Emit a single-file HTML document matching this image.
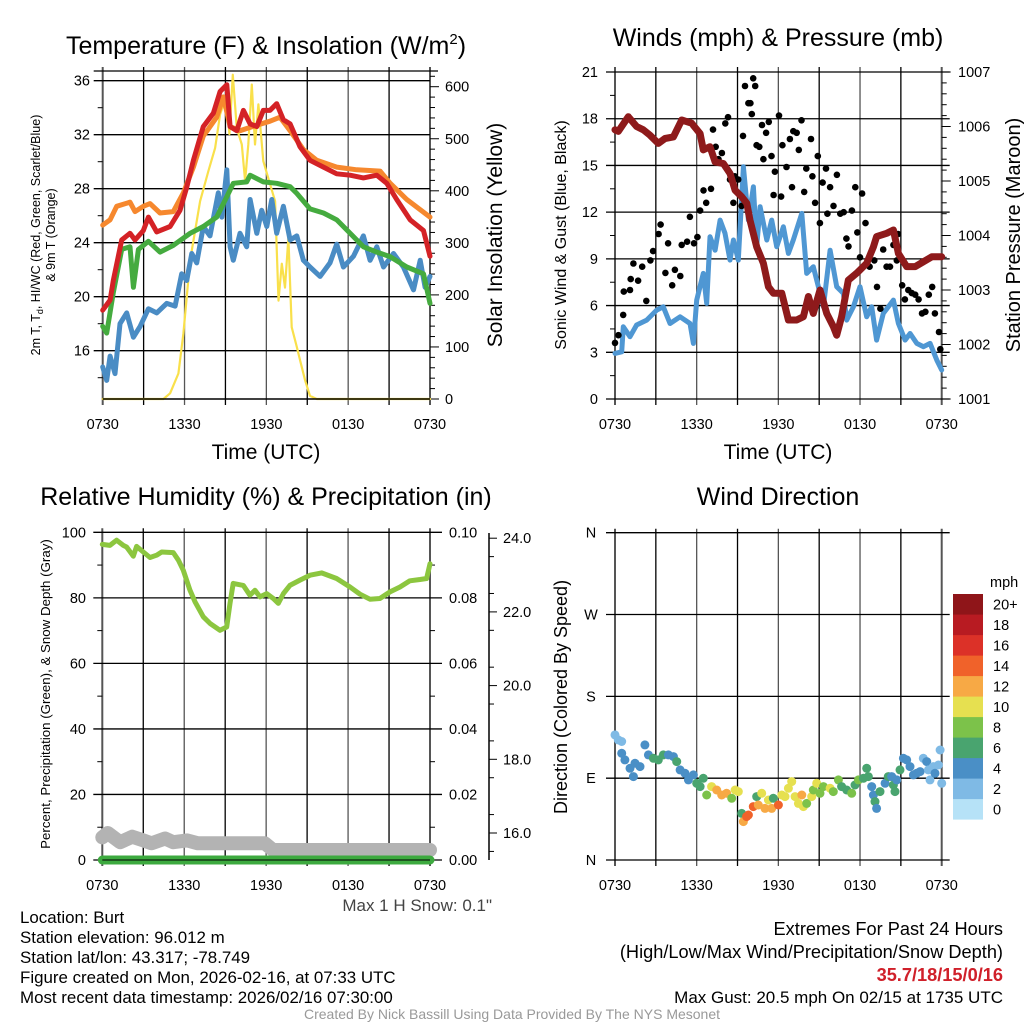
<!DOCTYPE html>
<html><head><meta charset="utf-8">
<style>
html,body{margin:0;padding:0;background:#fff;}
svg{display:block;font-family:"Liberation Sans",Arial,sans-serif;}
</style></head>
<body>
<svg id="fig" width="1024" height="1024" viewBox="0 0 1024 1024" xmlns="http://www.w3.org/2000/svg">
<rect x="0" y="0" width="1024" height="1024" fill="#fff"/>
<!-- titles -->
<text x="266" y="54" font-size="25" text-anchor="middle">Temperature (F) &amp; Insolation (W/m<tspan font-size="15" dy="-10">2</tspan><tspan dy="10">)</tspan></text>
<text x="778" y="46" font-size="25" text-anchor="middle">Winds (mph) &amp; Pressure (mb)</text>
<text x="266" y="505" font-size="25" text-anchor="middle">Relative Humidity (%) &amp; Precipitation (in)</text>
<text x="778" y="505" font-size="25" text-anchor="middle">Wind Direction</text>
<!-- axis titles -->
<text transform="translate(40,235) rotate(-90)" font-size="12.5" text-anchor="middle">2m T, T<tspan font-size="9" dy="3">d</tspan><tspan dy="-3">, HI/WC (Red, Green, Scarlet/Blue)</tspan></text>
<text transform="translate(55,235) rotate(-90)" font-size="12.5" text-anchor="middle">&amp; 9m T (Orange)</text>
<text transform="translate(502,235) rotate(-90)" font-size="21" text-anchor="middle">Solar Insolation (Yellow)</text>
<text transform="translate(566,235) rotate(-90)" font-size="16" text-anchor="middle">Sonic Wind &amp; Gust (Blue, Black)</text>
<text transform="translate(1020,235) rotate(-90)" font-size="20" text-anchor="middle">Station Pressure (Maroon)</text>
<text transform="translate(50,694) rotate(-90)" font-size="13.3" text-anchor="middle">Percent, Precipitation (Green), &amp; Snow Depth (Gray)</text>
<text transform="translate(567,697) rotate(-90)" font-size="18" text-anchor="middle">Direction (Colored By Speed)</text>
<text x="266" y="459" font-size="21" text-anchor="middle">Time (UTC)</text>
<text x="778" y="459" font-size="21" text-anchor="middle">Time (UTC)</text>
<!-- footer text -->
<text x="492" y="911" font-size="17" text-anchor="end" fill="#444">Max 1 H Snow: 0.1"</text>
<g font-size="16.9" fill="#000">
<text x="20" y="923">Location: Burt</text>
<text x="20" y="943">Station elevation: 96.012 m</text>
<text x="20" y="963">Station lat/lon: 43.317; -78.749</text>
<text x="20" y="983">Figure created on Mon, 2026-02-16, at 07:33 UTC</text>
<text x="20" y="1003">Most recent data timestamp: 2026/02/16 07:30:00</text>
</g>
<g font-size="18.2" text-anchor="end">
<text x="1003" y="935">Extremes For Past 24 Hours</text>
<text x="1003" y="958">(High/Low/Max Wind/Precipitation/Snow Depth)</text>
<text x="1003" y="981" fill="#d0202a" font-weight="bold">35.7/18/15/0/16</text>
<text x="1003" y="1003" font-size="17">Max Gust: 20.5 mph On 02/15 at 1735 UTC</text>
</g>
<text x="512" y="1019" font-size="14" text-anchor="middle" fill="#999">Created By Nick Bassill Using Data Provided By The NYS Mesonet</text>
</svg>
<script>
// ---------- DATA ----------
const timeTickLabels = ["0730","1330","1930","0130","0730"];
// Panel 1
const tempTickLabels = [16,20,24,28,32,36];
const solarTickLabels = [0,100,200,300,400,500,600];
const redHours = [0,.54,.78,1.39,2.0,2.37,2.98,3.35,3.96,4.94,5.67,6.16,6.65,7.38,8.12,8.61,9.1,9.34,9.83,10.32,10.81,11.3,11.78,12.27,12.76,13.25,13.74,14.47,15.2,16.19,17.16,18.14,19.12,20.1,20.83,21.56,22.54,23.52,24];
const redTemp = [19.0,19.75,21.2,24.2,24.7,24.2,24.9,25.9,24.8,25.2,26.4,28.1,30.1,32.6,33.6,35.2,35.7,32.6,32.3,33.8,32.8,32.6,33.8,33.8,34.3,33.1,32.8,31.1,30.1,29.6,29.1,29.0,28.8,29.0,28.4,27.2,25.7,24.9,23.0];
const orangeHours = [0,.54,1.03,2.0,2.37,2.98,3.47,4.2,5.18,5.92,6.65,7.38,8.36,8.85,9.34,10.07,11.3,12.27,13.0,13.74,14.72,15.7,17.16,18.63,20.34,21.08,22.3,24];
const orangeTemp = [25.3,25.7,26.7,27.0,26.3,26.7,26.9,26.2,26.3,27.7,29.6,31.9,33.3,34.8,32.6,32.3,32.7,33.0,33.3,32.3,30.9,30.1,29.6,29.4,29.3,28.4,27.2,25.9];
const greenHours = [0,.29,.78,1.39,2.0,2.25,2.62,3.35,4.2,5.18,6.41,7.38,8.36,9.1,9.58,10.56,10.81,11.78,12.76,13.74,14.23,15.2,16.19,17.16,18.14,19.12,20.1,21.08,22.3,23.52,24];
const greenTemp = [17.8,17.3,20.3,23.5,23.7,20.7,23.5,24.1,23.3,23.8,24.7,25.2,25.9,27.4,28.4,28.5,29.0,28.5,28.4,28.15,27.65,26.5,26.2,25.7,24.7,23.7,23.3,22.96,22.2,21.7,19.5];
const blueHours = [0,.29,.54,.9,1.27,1.76,2.25,2.74,3.35,3.96,4.69,5.31,5.79,6.16,6.53,6.89,7.38,7.87,8.48,8.73,9.1,9.34,9.58,10.07,10.56,10.81,11.3,11.66,12.03,12.4,12.76,13.25,13.74,14.23,14.72,15.2,15.94,16.67,17.16,17.65,18.39,19.12,19.61,20.1,20.59,21.32,22.05,22.79,23.28,23.64,24];
const blueTemp = [14.8,13.8,15.6,14.3,18.0,18.8,17.0,17.8,19.1,18.8,19.5,19.3,21.7,21.2,23.2,22.5,25.2,24.5,27.7,25.9,29.4,23.7,22.7,24.7,23.7,27.2,24.7,26.4,25.2,27.2,24.7,26.7,24.2,24.5,22.7,22.2,21.5,22.5,23.9,22.2,23.0,24.5,22.7,23.7,22.2,23.2,22.2,20.5,22.7,20.7,21.5];
const solarHours = [0,4.45,4.94,5.55,5.92,6.41,7.14,7.75,8.24,8.61,9.1,9.29,9.54,9.83,10.2,10.44,10.68,10.93,11.17,11.42,11.78,12.27,12.64,12.89,13.13,13.37,13.62,13.86,14.23,14.47,14.84,15.2,15.7,24];
const solarVals = [0,0,11,49,126,266,380,438,482,547,585,509,623,520,489,419,489,604,489,566,457,413,380,189,260,214,310,138,100,75,36,6,0,0];
// Panel 2
const windTickLabels = [0,3,6,9,12,15,18,21];
const presTickLabels = [1001,1002,1003,1004,1005,1006,1007];
const presHours = [0,.24,.98,1.59,2.08,2.57,3.18,3.67,4.29,4.9,5.63,6.25,6.49,6.98,7.35,7.96,8.45,8.82,9.31,9.68,9.92,10.41,10.9,11.27,11.64,12.25,12.74,13.35,13.84,14.21,14.57,15.06,15.55,16.04,16.29,16.65,17.14,17.76,18.49,18.98,19.22,19.96,20.45,20.82,21.43,22.05,22.66,23.27,24];
const presVals = [1005.94,1005.91,1006.18,1006.0,1005.94,1005.84,1005.69,1005.78,1005.81,1006.12,1006.06,1005.87,1005.57,1005.63,1005.35,1005.32,1005.14,1004.83,1004.71,1004.59,1004.28,1003.79,1003.49,1003.06,1002.94,1002.94,1002.45,1002.45,1002.51,1002.88,1002.57,1003.0,1002.57,1002.33,1002.17,1002.51,1003.18,1003.31,1003.49,1003.79,1003.98,1004.04,1004.1,1003.67,1003.43,1003.43,1003.52,1003.61,1003.61];
const windHours = [0,.49,.61,1.1,1.59,2.33,3.06,3.55,4.04,4.78,5.51,5.76,6.0,6.49,6.74,6.98,7.35,7.72,8.08,8.45,8.7,9.06,9.43,9.8,10.17,10.41,10.66,11.15,11.51,11.88,12.37,12.74,13.1,13.72,14.08,14.57,14.94,15.31,15.8,16.29,16.78,17.02,17.51,18.0,18.49,18.86,19.22,19.71,20.45,20.82,21.31,21.68,22.17,22.66,23.15,23.64,24];
const windVals = [2.93,3.03,4.64,4.0,4.75,5.07,5.71,5.92,4.85,5.28,4.85,3.57,6.35,8.07,6.14,10.42,9.56,11.49,10.64,8.92,10.21,8.92,14.92,11.49,13.63,9.78,12.35,10.21,11.49,9.78,11.06,9.35,10.21,11.92,8.07,8.5,7.21,5.92,9.56,7.21,6.78,5.07,5.92,7.21,5.28,5.92,3.78,5.5,6.35,4.85,3.78,4.21,3.57,3.36,3.57,2.5,1.86];
const gustHours = [0,.25,.6,.65,1.1,1.15,1.35,1.7,2.0,2.3,2.6,2.8,3.2,3.35,3.7,3.9,4.2,4.4,4.8,4.9,5.3,5.5,5.8,6.05,6.25,6.5,6.7,7.05,7.2,7.4,7.6,7.85,8.1,8.3,8.45,8.7,8.8,9.05,9.3,9.4,9.55,9.8,9.95,10.05,10.15,10.3,10.4,10.6,10.8,10.9,11.1,11.3,11.5,11.65,11.75,12.05,12.2,12.3,12.6,12.85,13.0,13.1,13.35,13.5,13.7,13.9,14.05,14.4,14.5,14.7,14.9,15.05,15.25,15.5,15.6,15.8,16.05,16.3,16.55,16.8,17.0,17.15,17.4,17.65,17.8,18.0,18.15,18.4,18.7,19.05,19.25,19.5,19.7,19.95,20.2,20.45,20.7,20.8,21.1,21.3,21.55,21.8,22.05,22.3,22.55,22.8,23.05,23.3,23.5,23.8,23.9];
const gustVals = [3.6,4.1,5.4,6.9,7.0,7.7,8.7,7.6,8.5,6.3,8.9,9.5,10.6,11.2,8.1,10.0,7.3,8.3,7.9,9.9,10.1,11.7,10.0,10.4,12.1,13.4,12.6,13.5,17.3,16.2,15.4,15.8,17.7,18.1,14.1,12.6,14.3,14.1,12.4,16.9,20.1,19.0,19.0,18.3,20.6,20.1,16.3,16.2,17.6,15.4,17.1,17.8,15.6,13.1,14.6,18.2,13.0,16.3,14.9,16.7,13.6,17.2,17.1,16.0,17.9,13.3,14.8,16.7,14.3,12.6,15.6,11.3,13.9,14.8,11.9,13.6,12.4,14.4,11.9,12.0,10.3,9.8,12.1,13.6,10.7,9.1,13.2,11.3,8.5,8.9,7.2,5.8,9.6,8.5,8.5,9.9,8.9,10.6,7.3,6.4,7.0,6.8,6.7,6.4,5.5,5.6,6.7,7.2,5.5,4.3,3.2];
// Panel 3
const rhTickLabels = [0,20,40,60,80,100];
const precipTickLabels = ["0.00","0.02","0.04","0.06","0.08","0.10"];
const snowTickLabels = ["16.0","18.0","20.0","22.0","24.0"];
const rhHours = [0,.56,1.05,1.54,1.78,2.27,2.51,3.0,3.49,3.98,4.35,5.2,5.57,5.93,6.42,6.79,7.4,7.89,8.62,9.11,9.35,9.59,10.33,10.81,11.18,11.55,12.04,12.52,12.89,13.26,13.74,14.48,15.21,16.06,17.16,18.14,18.87,19.6,20.33,21.07,21.8,22.53,23.27,23.75,24];
const rhVals = [96.3,96.0,97.6,96.0,95.5,92.7,95.7,94.0,92.3,93.0,94.0,93.8,91.5,88.4,82.3,78.8,74.2,72.2,70.1,71.1,78.3,84.4,83.8,80.8,82.3,80.3,81.3,79.8,78.3,81.3,83.8,85.4,86.9,87.6,85.9,83.3,81.1,79.6,79.8,81.8,83.3,85.2,85.6,85.9,90.4];
const snowHours = [0,.4,1.3,2.2,3,3.6,4.6,5.2,6.2,7,11.9,12.5,24];
const snowVals = [15.88,16.0,15.75,15.9,15.8,15.72,15.85,15.75,15.8,15.72,15.72,15.54,15.54];
const precipHours = [0,24];
const precipVals = [0,0];
// Panel 4
const dirTickLabels = ["N","E","S","W","N"];
const speedBinLabels = ["0","2","4","6","8","10","12","14","16","18","20+"];
const speedBinColors = ["#b6e2f7","#7fbae5","#4a8fc6","#49a46f","#7cc24a","#e6e050","#f7a945","#f0622a","#dc3128","#b81b22","#8f1519"];
const dirHours = [0,.24,.49,.49,.73,1.1,1.35,1.47,1.84,2.2,2.45,2.82,3.18,3.55,3.92,4.29,4.53,4.78,5.14,5.39,5.76,6.0,6.25,6.49,6.74,7.1,7.47,7.84,8.2,8.57,8.82,9.06,9.31,9.43,9.67,9.8,10.16,10.41,10.53,10.78,11.02,11.27,11.51,11.63,12.0,12.25,12.49,12.74,12.98,13.23,13.47,13.72,13.84,14.08,14.45,14.57,14.82,15.06,15.31,15.8,16.04,16.41,16.65,17.02,17.39,17.63,17.88,18.25,18.49,18.61,18.86,18.98,19.1,19.22,19.47,19.84,20.08,20.33,20.45,20.57,20.7,20.94,21.19,21.43,21.67,21.92,22.16,22.41,22.65,22.9,23.02,23.14,23.39,23.51,23.76,23.88,24];
const dirDeg = [137.6,132.1,130.3,117.4,110.1,100.9,91.7,106.4,102.7,126.6,115.6,111.9,110.1,115.6,115.6,113.7,108.2,99.1,95.4,88.1,93.6,84.4,80.7,89.9,71.5,80.7,77.0,71.5,73.4,67.9,77.0,75.2,51.3,42.2,47.7,49.5,58.7,69.7,60.5,73.4,56.8,66.0,56.8,67.9,60.5,71.5,69.7,78.9,86.2,69.7,62.3,71.5,58.7,62.3,69.7,77.0,84.4,73.4,80.7,78.9,75.2,88.1,80.7,77.0,73.4,82.5,88.1,89.9,100.9,91.7,80.7,71.5,64.2,56.8,75.2,84.4,91.7,91.7,82.5,75.2,88.1,99.1,111.9,110.1,102.7,93.6,95.4,97.2,111.9,108.2,99.1,88.1,102.7,95.4,104.5,121.0,84.4];
const dirSpeed = [2.5,2.5,2.5,4.5,4.5,4.5,4.5,4.5,4.5,4.5,4.5,6.5,6.5,6.5,4.5,4.5,6.5,4.5,4.5,4.5,4.5,6.5,6.5,6.5,8.5,10.5,12.5,12.5,12.5,8.5,10.5,10.5,6.5,12.5,14.5,14.5,14.5,6.5,12.5,10.5,12.5,10.5,12.5,6.5,14.5,10.5,10.5,10.5,10.5,10.5,10.5,12.5,10.5,8.5,10.5,8.5,10.5,8.5,8.5,10.5,8.5,8.5,6.5,6.5,8.5,6.5,8.5,6.5,6.5,6.5,4.5,4.5,6.5,4.5,6.5,4.5,6.5,4.5,6.5,6.5,4.5,6.5,4.5,4.5,4.5,4.5,4.5,4.5,2.5,4.5,2.5,2.5,2.5,4.5,2.5,2.5,2.5];

// ---------- SCALES ----------
const NS = "http://www.w3.org/2000/svg";
const svg = document.getElementById('fig');
function mk(tag, attrs, parent){ const e=document.createElementNS(NS,tag); for(const k in attrs) e.setAttribute(k,attrs[k]); (parent||svg).appendChild(e); return e; }
const P1={l:102.7,r:430,t:71,b:399}, P2={l:615,r:941.7,t:71,b:399}, P3={l:102.3,r:430,t:532.3,b:860}, P4={l:615,r:941.7,t:532.7,b:860};
const x1=h=>P1.l+h*(P1.r-P1.l)/24, x2=h=>P2.l+h*(P2.r-P2.l)/24, x3=h=>P3.l+h*(P3.r-P3.l)/24, x4=h=>P4.l+h*(P4.r-P4.l)/24;
const yTemp=f=>80.7+(36-f)*13.5;
const ySolar=w=>399-w*0.5205;
const yWind=m=>399-m*15.57;
const yPres=p=>399-(p-1001)*54.5;
const yRH=r=>860-r*3.277;
const yPrecip=v=>860-v*3277;
const ySnow=s=>833-(s-16)*36.85;
const yDir=d=>860-d*327.3/360;
const TFS=14.5;

function gridAndTime(P, xf, prefix, labelY){
  const g=mk('g',{});
  
  
  for(let i=0;i<=8;i++){
    const x=xf(i*3);
    const ln=mk('line',{x1:x,x2:x,y1:P.t-4,y2:P.b+6,stroke:(i%2?'#000':'#555'),'stroke-width':(i==0||i==8)?2:1.3},g);
    
    
  }
  timeTickLabels.forEach((lab,i)=>{
    const t=mk('text',{x:xf(i*6),y:labelY,'font-size':TFS,'text-anchor':'middle'},g);
    t.textContent=lab;
    
    
  });
}
function hgrid(P, y, prefix, right){
  const ln=mk('line',{x1:P.l-9,x2:P.r+(right||0),y1:y,y2:y,stroke:'#000','stroke-width':1.3});
  
  
}
function label(x,y,txt,anchor,name,size){
  const t=mk('text',{x:x,y:y,'font-size':size||TFS,'text-anchor':anchor});
  t.textContent=txt;
  
  
  return t;
}
function tick(x1_,x2_,y,name){
  const ln=mk('line',{x1:x1_,x2:x2_,y1:y,y2:y,stroke:'#000','stroke-width':1});
  
  
}
function line(hs, vs, xf, yf, color, w, name){
  const pts=hs.map((h,i)=>xf(h).toFixed(1)+','+yf(vs[i]).toFixed(1)).join(' ');
  const pl=mk('polyline',{points:pts,fill:'none',stroke:color,'stroke-width':w,'stroke-linejoin':'round','stroke-linecap':'round'});
  
  
  return pl;
}

// ---------- PANEL 1 ----------
gridAndTime(P1,x1,'temperature',429);
hgrid(P1,P1.t,'temperature',8);
tempTickLabels.forEach(v=>{ hgrid(P1,yTemp(v),'temperature',0); label(90,yTemp(v)+5,String(v),'end','temperature-y-tick-label'); });
for(let v=14;v<=34;v+=4){ tick(P1.l-5,P1.l,yTemp(v),'temperature-minor-tick'); }
solarTickLabels.forEach(v=>{ tick(P1.r,P1.r+9,ySolar(v),'solar-tick'); label(445,ySolar(v)+5,String(v),'start','solar-y-tick-label'); });
for(let v=20;v<=620;v+=20){ if(v%100) tick(P1.r,P1.r+5,ySolar(v),'solar-minor-tick'); }
line(solarHours,solarVals,x1,ySolar,'#f9e04b',2.2,'solar-insolation-line');
line(blueHours,blueTemp,x1,yTemp,'#4a8cc4',5,'dewpoint-line');
line(greenHours,greenTemp,x1,yTemp,'#45ab3f',5,'heat-index-wind-chill-line');
line(orangeHours,orangeTemp,x1,yTemp,'#f6882e',5,'9m-temperature-line');
line(redHours,redTemp,x1,yTemp,'#d42226',5,'2m-temperature-line');
{const b=mk('line',{x1:P1.l,x2:P1.r,y1:P1.b,y2:P1.b,stroke:'#000','stroke-width':1.5});  }

// ---------- PANEL 2 ----------
gridAndTime(P2,x2,'winds',429);
windTickLabels.forEach(v=>{ hgrid(P2,yWind(v),'winds',8); label(598,yWind(v)+5,String(v),'end','wind-y-tick-label'); });
for(let v=1.5;v<21;v+=3){ tick(P2.l-5,P2.l,yWind(v),'wind-minor-tick'); }
presTickLabels.forEach(v=>{ tick(P2.r,P2.r+9,yPres(v),'pressure-tick'); label(958,yPres(v)+5,String(v),'start','pressure-y-tick-label'); });
for(let v=1001.2;v<1007;v+=0.2){ tick(P2.r,P2.r+5,yPres(v),'pressure-minor-tick'); }
line(windHours,windVals,x2,yWind,'#4f97d3',5,'sonic-wind-line');
gustHours.forEach((h,i)=>{
  const c=mk('circle',{cx:x2(h).toFixed(1),cy:yWind(gustVals[i]).toFixed(1),r:3.3,fill:'#000'});
  
  
});
line(presHours,presVals,x2,yPres,'#8e1a1b',7,'station-pressure-line');

// ---------- PANEL 3 ----------
gridAndTime(P3,x3,'humidity',890);
rhTickLabels.forEach((v,i)=>{ hgrid(P3,yRH(v),'humidity',12); label(86,yRH(v)+5,String(v),'end','humidity-y-tick-label'); label(449,yRH(v)+5,precipTickLabels[i],'start','precip-y-tick-label'); });
for(let v=10;v<100;v+=20){ tick(P3.l-5,P3.l,yRH(v),'humidity-minor-tick'); tick(P3.r,P3.r+5,yRH(v),'precip-minor-tick'); }
{const a=mk('line',{x1:489,x2:489,y1:533,y2:860,stroke:'#000','stroke-width':1.5});  }
snowTickLabels.forEach(v=>{ tick(489,497,ySnow(parseFloat(v)),'snow-tick'); label(503,ySnow(parseFloat(v))+5,v,'start','snow-y-tick-label'); });
for(let v=15.5;v<24;v+=1){ tick(489,494,ySnow(v),'snow-minor-tick'); }
line(rhHours,rhVals,x3,yRH,'#8cc63f',5,'relative-humidity-line');
line(snowHours,snowVals,x3,ySnow,'#b3b3b3',14,'snow-depth-line');
line(precipHours,precipVals,x3,yPrecip,'#3daa3f',9,'precipitation-line');
{const b=mk('line',{x1:P3.l,x2:P3.r,y1:P3.b,y2:P3.b,stroke:'#000','stroke-width':1});  }

// ---------- PANEL 4 ----------
gridAndTime(P4,x4,'direction',890);
dirTickLabels.forEach((lab,i)=>{ hgrid(P4,yDir(i*90),'direction',8); label(591,yDir(i*90)+5,lab,'middle','direction-y-tick-label'); });
dirHours.forEach((h,i)=>{
  const idx=Math.min(10,Math.floor(dirSpeed[i]/2));
  const c=mk('circle',{cx:x4(h).toFixed(1),cy:yDir(dirDeg[i]).toFixed(1),r:4.5,fill:speedBinColors[idx]});
  
  
});
// colorbar
label(990,587,'mph','start','colorbar-title');
speedBinLabels.forEach((lab,i)=>{
  const k=10-i;
  const y=594+k*20.5;
  const r=mk('rect',{x:953,y:y,width:30,height:20.6,fill:speedBinColors[i]});
  
  
  label(993,y+15.5,lab,'start','colorbar-label');
});
</script>
</body></html>
